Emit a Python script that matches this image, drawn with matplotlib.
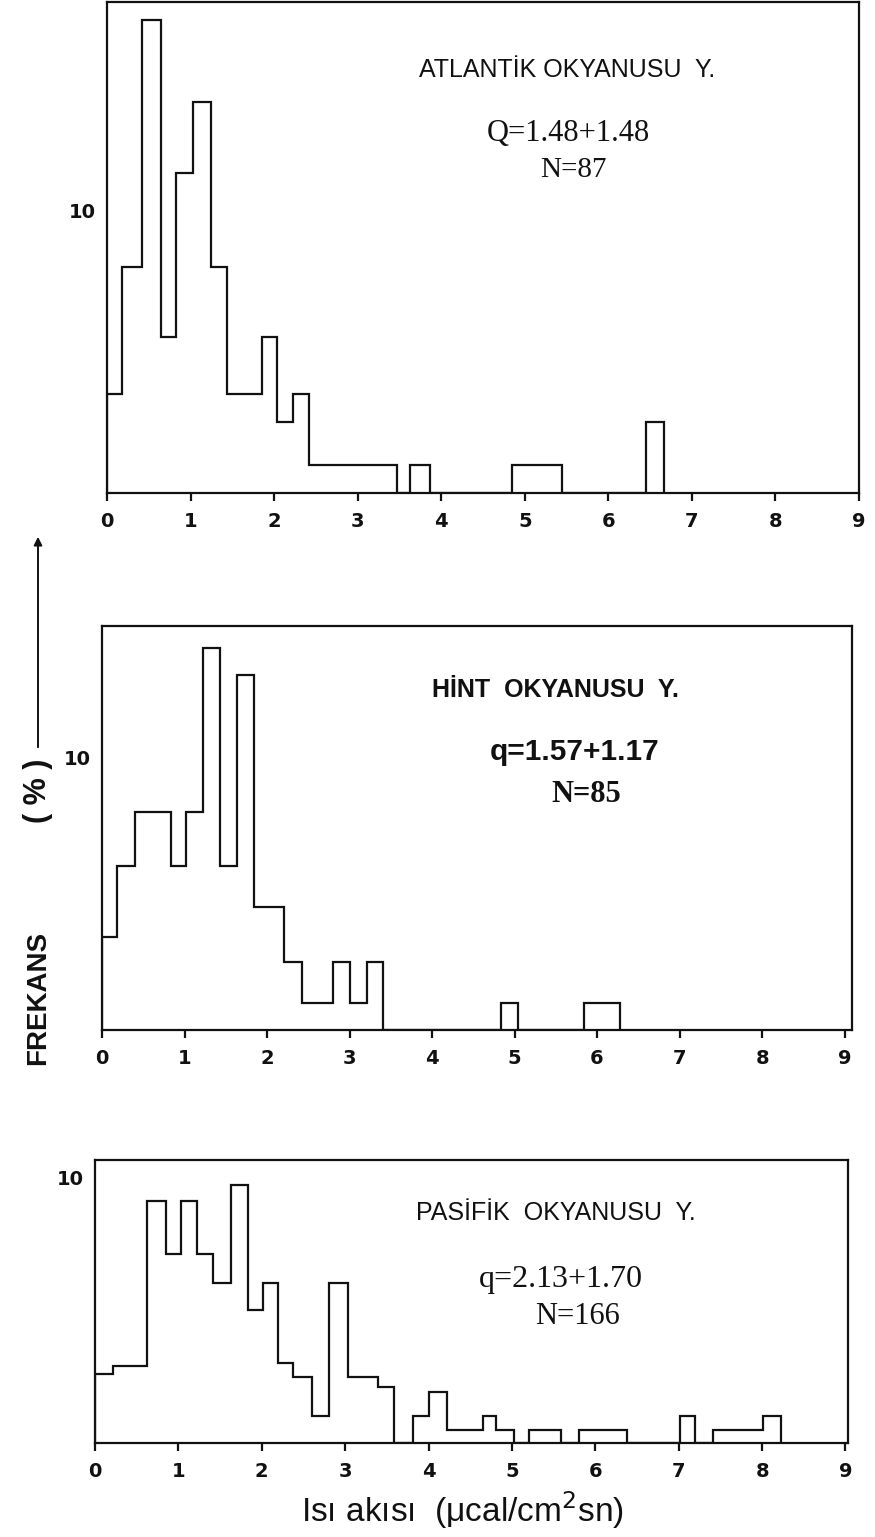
import matplotlib
matplotlib.use("Agg")
import matplotlib.pyplot as plt

# Heat-flow frequency distributions (percent) for three ocean basins
atl_edges = [0, 0.18, 0.42, 0.65, 0.83, 1.03, 1.25, 1.44, 1.85, 2.04, 2.23, 2.42,
             3.47, 3.63, 3.86, 4.85, 5.45, 6.45, 6.67]
atl_freq = [3.5, 8.0, 16.7, 5.5, 11.3, 13.8, 8.0, 3.5, 5.5, 2.5, 3.5, 1.0,
            0, 1.0, 0, 1.0, 0, 2.5]

hint_edges = [0, 0.18, 0.40, 0.84, 1.02, 1.22, 1.43, 1.64, 1.84, 2.21, 2.42,
              2.80, 3.01, 3.21, 3.41, 4.84, 5.04, 5.84, 6.28]
hint_freq = [3.4, 6.0, 8.0, 6.0, 8.0, 14.0, 6.0, 13.0, 4.5, 2.5, 1.0,
             2.5, 1.0, 2.5, 0, 1.0, 0, 1.0]

pac_edges = [0, 0.22, 0.62, 0.85, 1.03, 1.22, 1.41, 1.63, 1.83, 2.01, 2.20,
             2.37, 2.60, 2.81, 3.03, 3.39, 3.58, 3.81, 4.01, 4.22, 4.65,
             4.81, 5.02, 5.21, 5.59, 5.81, 6.38, 7.02, 7.20, 7.41, 8.01, 8.23]
pac_freq = [2.6, 2.9, 9.1, 7.1, 9.1, 7.1, 6.0, 9.7, 5.0, 6.0, 3.0,
            2.5, 1.0, 6.0, 2.5, 2.1, 0, 1.0, 1.9, 0.5, 1.0,
            0.5, 0, 0.5, 0, 0.5, 0, 1.0, 0, 0.5, 1.0]

x_ticks = [0, 1, 2, 3, 4, 5, 6, 7, 8, 9]
y_ticks = [10]

titles = ["ATLANTİK OKYANUSU  Y.", "HİNT  OKYANUSU  Y.", "PASİFİK  OKYANUSU  Y."]
stats = ["Q=1.48+1.48", "q=1.57+1.17", "q=2.13+1.70"]
counts = ["N=87", "N=85", "N=166"]
xlabel = "Isı akısı  (μcal/cm$^{2}$sn)"
ylabel_word = "FREKANS"
ylabel_unit = "( % )"

W, H = 875, 1537
fig = plt.figure(figsize=(W / 100, H / 100), dpi=100)
fig.patch.set_facecolor("white")

SANS_N = ["Liberation Sans Narrow", "Liberation Sans", "DejaVu Sans"]
SANS = ["Liberation Sans", "DejaVu Sans"]
HEAVY = ["DejaVu Sans"]
SERIF = ["Liberation Serif", "DejaVu Serif"]
INK = "#111111"


def px_axes(l, t, r, b):
    return fig.add_axes([l / W, 1 - b / H, (r - l) / W, (b - t) / H])


def ftext(x, y, s, **kw):
    fig.text(x / W, 1 - y / H, s, ha="center", va="center", color=INK, **kw)


panels = [
    # box (l, t, r, b), xmax, ymax
    ((107, 2, 859, 493), 9.0, 17.35, atl_edges, atl_freq),
    ((102, 626, 852, 1030), 9.09, 14.8, hint_edges, hint_freq),
    ((95, 1160, 848, 1443), 9.03, 10.64, pac_edges, pac_freq),
]

for box, xmax, ymax, edges, freq in panels:
    ax = px_axes(*box)
    ax.stairs(freq, edges, baseline=0, fill=False, color=INK, lw=1.6)
    ax.set_xlim(0, xmax)
    ax.set_ylim(0, ymax)
    ax.set_xticks(x_ticks)
    ax.set_xticklabels([str(t) for t in x_ticks], fontsize=14,
                       fontweight="bold", family=HEAVY)
    ax.set_yticks(y_ticks)
    ax.set_yticklabels([str(t) for t in y_ticks], fontsize=14,
                       fontweight="bold", family=HEAVY)
    ax.tick_params(axis="x", direction="out", length=6, width=1.6, pad=8,
                   colors=INK)
    ax.tick_params(axis="y", length=0, pad=8, colors=INK)
    for sp in ax.spines.values():
        sp.set_linewidth(1.6)
        sp.set_color(INK)

# Panel annotations
ftext(567, 70, titles[0], fontsize=18, family=SANS_N)
ftext(568, 133, stats[0], fontsize=22, family=SERIF)
ftext(573, 170, counts[0], fontsize=21, family=SERIF)

ftext(555, 690, titles[1], fontsize=18, family=SANS_N, fontweight="bold")
ftext(575, 752, stats[1], fontsize=21.5, family=SANS, fontweight="bold")
ftext(586, 795, counts[1], fontsize=22, family=SERIF, fontweight="bold")

ftext(556, 1213, titles[2], fontsize=18, family=SANS_N)
ftext(561, 1280, stats[2], fontsize=23, family=SERIF)
ftext(578, 1316, counts[2], fontsize=22, family=SERIF)

# Shared axis labels
ftext(462, 1510, xlabel, fontsize=24, family=SANS)
ftext(38, 998, ylabel_word, fontsize=20, family=SANS_N, fontweight="bold",
      rotation=90)
ftext(38, 791, ylabel_unit, fontsize=22, family=SANS, fontweight="bold",
      rotation=90)
fig.add_artist(matplotlib.patches.FancyArrowPatch(
    (38 / W, 1 - 750 / H), (38 / W, 1 - 534 / H),
    transform=fig.transFigure, arrowstyle="-|>", mutation_scale=12,
    lw=1.4, color=INK))

fig.savefig("out.png", dpi=100, facecolor="white")
